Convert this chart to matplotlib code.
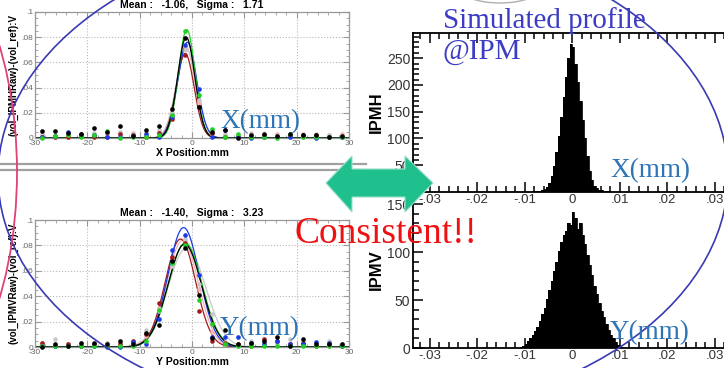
import numpy as np
import matplotlib
matplotlib.use('Agg')
import matplotlib.pyplot as plt
from matplotlib.patches import Ellipse, Polygon
from matplotlib.lines import Line2D
from matplotlib.ticker import FuncFormatter, MultipleLocator

# ---------------- data ----------------
wire_pos = [-28.75, -26.25, -23.75, -21.25, -18.75, -16.25, -13.75, -11.25,
            -8.75, -6.25, -3.75, -1.25, 1.25, 3.75, 6.25, 8.75,
            11.25, 13.75, 16.25, 18.75, 21.25, 23.75, 26.25, 28.75]

series_names = ['pink', 'lightgray', 'red', 'blue', 'green', 'black']
series_colors = ['#f2b4b4', '#c8c8c8', '#a01c1c', '#1a3ce6', '#22d022', '#000000']

# horizontal wire scanner (X)
h_pink = [0.0030, 0.0020, 0.0010, 0.0030, 0.0020, 0.0040, 0.0020, 0.0040, 0.0020, 0.0050, 0.0190, 0.0720,
          0.0280, 0.0030, 0.0020, 0.0010, 0.0040, 0.0010, 0.0030, 0.0020, 0.0030, 0.0010, 0.0020, 0.0030]
h_gray = [0.0020, 0.0010, 0.0030, 0.0020, 0.0040, 0.0030, 0.0050, 0.0030, 0.0040, 0.0060, 0.0200, 0.0700,
          0.0300, 0.0060, 0.0030, 0.0020, 0.0030, 0.0020, 0.0010, 0.0030, 0.0010, 0.0030, 0.0020, 0.0010]
h_red = [0.0010, 0.0005, 0.0005, 0.0030, 0.0010, 0.0005, 0.0030, 0.0020, 0.0010, 0.0040, 0.0150, 0.0656,
         0.0250, 0.0040, 0.0005, 0.0010, 0.0010, 0.0020, 0.0010, 0.0020, 0.0020, 0.0020, 0.0010, 0.0010]
h_blue = [0.0010, 0.0015, 0.0050, 0.0015, 0.0025, 0.0005, 0.0010, 0.0015, 0.0030, 0.0005, 0.0167, 0.0735,
          0.0385, 0.0010, 0.0066, 0.0010, 0.0000, 0.0010, 0.0005, 0.0010, 0.0020, 0.0000, 0.0010, 0.0010]
h_green = [0.0000, 0.0015, 0.0025, 0.0010, 0.0020, 0.0055, 0.0000, 0.0010, 0.0005, 0.0020, 0.0180, 0.0850,
           0.0340, 0.0074, 0.0010, 0.0034, 0.0005, 0.0010, 0.0000, 0.0030, 0.0010, 0.0005, 0.0010, 0.0010]
h_black = [0.0053, 0.0056, 0.0040, 0.0030, 0.0082, 0.0048, 0.0093, 0.0013, 0.0066, 0.0098, 0.0228, 0.0796,
           0.0246, 0.0048, 0.0060, 0.0003, 0.0026, 0.0034, 0.0016, 0.0030, 0.0020, 0.0020, 0.0010, 0.0016]
h_fit_amp = [0.073, 0.071, 0.067, 0.076, 0.086, 0.080]
h_fit_mean = [-1.2, -1.1, -1.3, -0.9, -1.0, -1.1]
h_fit_sigma = [1.75, 1.9, 1.7, 1.8, 1.6, 1.65]

# vertical wire scanner (Y)
v_pink = [0.0030, 0.0010, 0.0020, 0.0020, 0.0010, 0.0030, 0.0030, 0.0050, 0.0090, 0.0310, 0.0700, 0.0840,
          0.0460, 0.0120, 0.0030, 0.0020, 0.0020, 0.0040, 0.0020, 0.0030, 0.0050, 0.0030, 0.0010, 0.0020]
v_gray = [0.0020, 0.0060, 0.0020, 0.0030, 0.0020, 0.0030, 0.0010, 0.0030, 0.0130, 0.0280, 0.0640, 0.0850,
          0.0500, 0.0260, 0.0040, 0.0010, 0.0050, 0.0030, 0.0040, 0.0060, 0.0030, 0.0040, 0.0050, 0.0010]
v_red = [0.0035, 0.0010, 0.0020, 0.0010, 0.0020, 0.0010, 0.0020, 0.0045, 0.0100, 0.0350, 0.0710, 0.0816,
         0.0280, 0.0050, 0.0030, 0.0020, 0.0010, 0.0065, 0.0050, 0.0020, 0.0030, 0.0010, 0.0020, 0.0010]
v_blue = [0.0010, 0.0010, 0.0005, 0.0010, 0.0010, 0.0000, 0.0000, 0.0040, 0.0025, 0.0220, 0.0760, 0.0880,
          0.0570, 0.0080, 0.0080, 0.0080, 0.0030, 0.0020, 0.0050, 0.0020, 0.0020, 0.0040, 0.0030, 0.0010]
v_green = [0.0005, 0.0005, 0.0010, 0.0010, 0.0010, 0.0005, 0.0010, 0.0010, 0.0050, 0.0295, 0.0660, 0.0800,
           0.0370, 0.0180, 0.0020, 0.0010, 0.0010, 0.0010, 0.0005, 0.0010, 0.0010, 0.0005, 0.0010, 0.0010]
v_black = [0.0000, 0.0020, 0.0010, 0.0035, 0.0030, 0.0020, 0.0045, 0.0025, 0.0110, 0.0170, 0.0680, 0.0776,
           0.0410, 0.0074, 0.0130, 0.0025, 0.0030, 0.0050, 0.0080, 0.0010, 0.0060, 0.0020, 0.0025, 0.0020]
v_fit_amp = [0.084, 0.078, 0.085, 0.094, 0.082, 0.081]
v_fit_mean = [-1.8, -1.0, -2.2, -1.6, -1.3, -1.4]
v_fit_sigma = [3.0, 3.6, 2.9, 3.0, 3.2, 3.2]

h_title = 'Mean :   -1.06,   Sigma :   1.71'
v_title = 'Mean :   -1.40,   Sigma :   3.23'

# simulated profile histograms (bin width 0.0005)
ipmh_range = (-0.01, 0.01)
ipmh_counts = [0, 0, 0, 1, 1, 1, 2, 3, 6, 10, 17, 29, 48, 74, 105, 140, 178, 215, 250, 276,
               270, 240, 205, 170, 135, 100, 68, 40, 22, 12, 7, 4, 3, 2, 1, 1, 0, 0, 0, 0]
ipmv_range = (-0.012, 0.012)
ipmv_counts = [0, 0, 1, 2, 4, 7, 10, 14, 18, 22, 28, 35, 42, 51, 60, 70, 80, 90, 101, 110, 118, 122, 130, 128,
               142, 135, 124, 130, 118, 108, 97, 86, 76, 65, 56, 47, 39, 32, 25, 19, 14, 10, 6, 3, 1, 0, 0, 0]

# ---------------- figure ----------------
W, H = 724, 368
fig = plt.figure(figsize=(W / 100, H / 100), dpi=100)
fig.patch.set_facecolor('white')

def fx(x):
    return x / W

def fy(y):
    return 1 - y / H

def rect(x0, y0, x1, y1):
    return [fx(x0), fy(y1), (x1 - x0) / W, (y1 - y0) / H]

SANS = 'Liberation Sans'
SERIF = 'Liberation Serif'


def fmt_dec(v, pos):
    if abs(v) < 1e-12:
        return '0'
    s = ('%g' % v)
    s = s.replace('0.', '.')
    return s


def wire_panel(r, vals, amps, means, sigmas, title, ylabel, xlabel):
    ax = fig.add_axes(rect(*r))
    ax.set_xlim(-30, 30)
    ax.set_ylim(0, 0.1)
    xx = np.linspace(-30, 30, 800)
    for c, a, m, s in zip(series_colors, amps, means, sigmas):
        ax.plot(xx, a * np.exp(-0.5 * ((xx - m) / s) ** 2), color=c, lw=0.9, zorder=2)
    for c, v in zip(series_colors, vals):
        ax.scatter(wire_pos, v, s=11, color=c, zorder=3, clip_on=False, linewidths=0)
    ax.grid(True, color='#b8b8b8', ls=':', lw=0.8)
    ax.xaxis.set_major_locator(MultipleLocator(10))
    ax.xaxis.set_minor_locator(MultipleLocator(2))
    ax.yaxis.set_major_locator(MultipleLocator(0.02))
    ax.yaxis.set_minor_locator(MultipleLocator(0.005))
    ax.yaxis.set_major_formatter(FuncFormatter(fmt_dec))
    ax.xaxis.set_major_formatter(FuncFormatter(lambda v, p: '%d' % v))
    ax.tick_params(which='both', direction='in', top=True, right=True, colors='#999999',
                   labelcolor='#666666', labelsize=6, pad=1.5)
    ax.tick_params(which='major', length=4)
    ax.tick_params(which='minor', length=2)
    for lab in ax.get_xticklabels() + ax.get_yticklabels():
        lab.set_fontfamily(SANS)
    for sp in ax.spines.values():
        sp.set_color('#999999')
        sp.set_linewidth(0.9)
    ax.set_title(title, fontsize=7.5, fontweight='bold', family=SANS, pad=3)
    ax.set_ylabel(ylabel, fontsize=7, fontweight='bold', family=SANS, labelpad=2)
    ax.set_xlabel(xlabel, fontsize=7.5, fontweight='bold', family=SANS, labelpad=1)
    return ax


wire_panel((35, 12, 349, 138),
           [h_pink, h_gray, h_red, h_blue, h_green, h_black],
           h_fit_amp, h_fit_mean, h_fit_sigma, h_title,
           '(vol_IPMHRaw)-(vol_ref):V', 'X Position:mm')
wire_panel((35, 220, 349, 347),
           [v_pink, v_gray, v_red, v_blue, v_green, v_black],
           v_fit_amp, v_fit_mean, v_fit_sigma, v_title,
           '(vol_IPMVRaw)-(vol_ref):V', 'Y Position:mm')

# separator double line
for yy in (164, 169.5):
    fig.add_artist(Line2D([fx(0), fx(366)], [fy(yy), fy(yy)], color='#a0a0a0', lw=1.6,
                          transform=fig.transFigure))


def hist_panel(r, counts, hrange, ylim, ylabel, top_spine):
    ax = fig.add_axes(rect(*r))
    n = len(counts)
    edges = np.linspace(hrange[0], hrange[1], n + 1)
    ax.stairs(counts, edges, fill=True, color='black', zorder=2)
    ax.stairs(counts, edges, color='black', lw=0.6, zorder=2)
    ax.set_xlim(-0.0335, 0.032)
    ax.set_ylim(*ylim)
    ax.patch.set_alpha(0)
    ax.spines['right'].set_visible(False)
    ax.spines['top'].set_visible(top_spine)
    for sp in ax.spines.values():
        sp.set_linewidth(1.3)
    ax.xaxis.set_major_locator(MultipleLocator(0.01))
    ax.xaxis.set_minor_locator(MultipleLocator(0.002))
    ax.xaxis.set_major_formatter(FuncFormatter(fmt_dec))
    ax.yaxis.set_major_locator(MultipleLocator(50))
    ax.yaxis.set_minor_locator(MultipleLocator(10))
    ax.tick_params(which='both', direction='in', top=top_spine, labelsize=10,
                   labelcolor='#333333', pad=2, width=1.1)
    ax.tick_params(axis='x', which='both', pad=1.5, labelsize=9.5)
    ax.tick_params(which='major', length=7)
    ax.tick_params(which='minor', length=4)
    for lab in ax.get_xticklabels() + ax.get_yticklabels():
        lab.set_fontfamily(SANS)
    ax.set_ylabel(ylabel, fontsize=12, fontweight='bold', family=SANS, labelpad=2)
    return ax


hist_panel((413, 33, 724, 192), ipmh_counts, ipmh_range, (0, 297), 'IPMH', True)
hist_panel((413, 192, 724, 348), ipmv_counts, ipmv_range, (0, 162.5), 'IPMV', False)

# decorative ellipses
fig.add_artist(Ellipse((fx(363), fy(176)), 2 * 365 / W, 2 * 241 / H, fill=False,
                       ec='#3a3ab4', lw=1.2, transform=fig.transFigure, zorder=10))
fig.add_artist(Ellipse((fx(-100), fy(172)), 2 * 117 / W, 2 * 240 / H, fill=False,
                       ec='#e0407c', lw=1.3, transform=fig.transFigure, zorder=10))
fig.add_artist(Ellipse((fx(500), fy(-12)), 80 / W, 30 / H, fill=False,
                       ec='#b0b0b0', lw=1.0, transform=fig.transFigure, zorder=10))

# double arrow
arrow_px = [(326, 183), (352, 156), (352, 169), (405, 169), (405, 156), (433, 183),
            (405, 212), (405, 197), (352, 197), (352, 212)]
fig.add_artist(Polygon([(fx(a), fy(b)) for a, b in arrow_px], closed=True,
                       fc='#1fbf8e', ec='#9adfc8', lw=0.8, transform=fig.transFigure, zorder=11))

# texts
blue_txt = '#2e75b6'
fig.text(fx(220), fy(128), 'X(mm)', color=blue_txt, fontsize=19.5, family=SERIF, va='baseline', zorder=12)
fig.text(fx(220), fy(335), 'Y(mm)', color=blue_txt, fontsize=19.5, family=SERIF, va='baseline', zorder=12)
fig.text(fx(610), fy(177), 'X(mm)', color=blue_txt, fontsize=19.5, family=SERIF, va='baseline', zorder=12)
fig.text(fx(610), fy(339), 'Y(mm)', color=blue_txt, fontsize=19.5, family=SERIF, va='baseline', zorder=12)
fig.text(fx(443), fy(28), 'Simulated profile', color='#3c3cc4', fontsize=21, family=SERIF,
         va='baseline', zorder=12)
fig.text(fx(443), fy(59), '@IPM', color='#3c3cc4', fontsize=21, family=SERIF, va='baseline', zorder=12)
fig.text(fx(295), fy(243), 'Consistent!!', color='#ee1111', fontsize=27, family=SERIF,
         va='baseline', zorder=12)

fig.savefig('out.png', dpi=100)
